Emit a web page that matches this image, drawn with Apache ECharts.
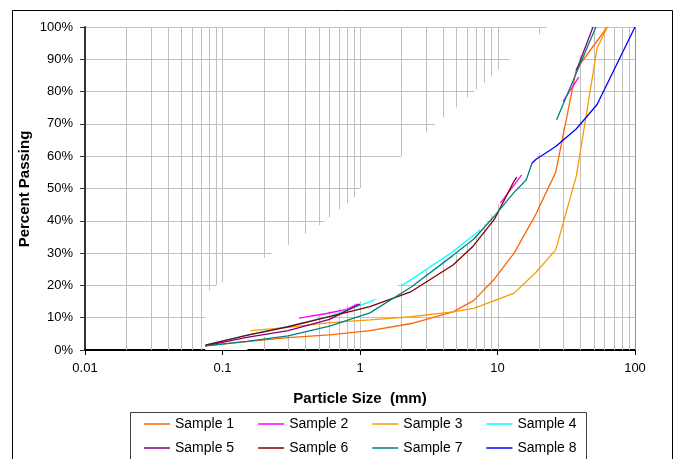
<!DOCTYPE html>
<html><head><meta charset="utf-8">
<script src="https://cdn.jsdelivr.net/npm/echarts@6/dist/echarts.min.js"></script>
<style>html,body{margin:0;padding:0;background:#fff}#c{width:677px;height:459px}</style>
</head><body><div id="c"></div>
<script>
// ---- data ----
const xTickLabels = ['0.01','0.1','1','10','100'];
const yTickLabels = ['0%','10%','20%','30%','40%','50%','60%','70%','80%','90%','100%'];
const seriesNames = ['Sample 1','Sample 2','Sample 3','Sample 4','Sample 5','Sample 6','Sample 7','Sample 8'];
const xTitle = 'Particle Size  (mm)';
const yTitle = 'Percent Passing';
// [particle size mm, percent passing]; null = segment not visible in the reference
const sample1 = [[0.075,1.3],[0.15,2.6],[0.3,3.8],[0.6,4.7],[1.18,6.0],[2.36,8.2],[4.75,11.8],[6.7,15.3],[9.5,22.0],[13.2,30.0],[19,42.0],[26.5,55.0],[37.5,87.0],[63,100]];
const sample2 = [[0.36,9.9],[0.57,11.3],[0.8,12.6],[0.97,14.3],[1.2,null],[10.5,45.5],[15,54.2],[20,null],[30,77],[39,84.5]];
const sample3 = [[0.16,6.0],[0.3,7.0],[0.6,8.5],[1.18,9.3],[2.36,10.3],[4.75,11.8],[6.7,12.9],[9.5,15.3],[13.2,17.6],[19,24.0],[26.5,31.0],[37.5,54.0],[53,93.5],[63,100]];
const sample4 = [[0.075,1.5],[0.15,4.6],[0.3,7.3],[0.6,10.4],[1.18,14.9],[1.29,15.7],[1.5,null],[2,19.9],[2.36,21.8],[4.75,30.5],[6.7,35.5],[7.5,37.2]];
const sample5 = [[0.075,1.3],[0.15,3.9],[0.3,6.0],[0.6,9.5],[0.8,12.2],[1.0,14.2],[2,null],[37.5,86.5],[49.5,100]];
const sample6 = [[0.075,1.5],[0.15,4.5],[0.3,7.2],[0.6,10.3],[1.18,13.4],[2.36,18.1],[4.75,26.3],[6.7,32.3],[9.5,40.5],[13.2,52.3],[13.8,53.5]];
const sample7 = [[0.075,1.3],[0.15,2.7],[0.3,4.4],[0.6,7.4],[1.18,11.5],[2.36,19.5],[4.75,29.3],[6.7,34.3],[9.5,41.5],[13.2,48.8],[16.2,52.7],[17.8,57.8],[20,null],[26.9,71.3],[37.5,85.8],[52,100]];
const sample8 = [[17.8,57.8],[19,59],[26.5,63],[37.5,68.5],[53,76],[100,100]];
const seriesColors = ['#FF6600','#FF00FF','#FF9900','#00FFFF','#800080','#800000','#008080','#0000FF'];
// vertical log gridlines (mm)
const gridX = [0.02,0.03,0.04,0.05,0.06,0.07,0.08,0.09,0.1,0.2,0.3,0.4,0.5,0.6,0.7,0.8,0.9,1,2,3,4,5,6,7,8,9,10,20,30,40,50,60,70,80,90,100];
// white area in the reference that hides part of the grid (x mm, y %)
const maskPoly = [[0.075,0],[0.075,18],[0.08,18.5],[0.09,20],[0.1,21],[0.2,28.5],[0.3,32.5],[0.4,36],[0.5,38.4],[0.6,41],[0.9,47],[1,50],[2,60],[3,67],[4,72],[5,75],[6,78],[7,80.5],[8,82.6],[9,84.6],[10,86.6],[20,97.6],[23,100],
  [48,100],[40,91],[37.5,88],[30,68],[25,64],[20,61],[18,58],[16.2,52],[10,45],[9,42],[8,38.7],[7,35],[6,32.5],[5,30],[2,20.5],[1,15],[0.6,12],[0.5,10.8],[0.4,5.7],[0.3,4.6],[0.2,4],[0.15,0]];

const seriesData = [sample1,sample2,sample3,sample4,sample5,sample6,sample7,sample8];
const FONT = 'Liberation Sans, Arial, sans-serif';

const chart = echarts.init(document.getElementById('c'), null, {renderer:'canvas'});
const lineSeries = seriesNames.map((n,i)=>({
  name:n, type:'line', data:seriesData[i], symbol:'none', showSymbol:false,
  connectNulls:false, z:3, animation:false,
  lineStyle:{color:seriesColors[i], width:1.3}, itemStyle:{color:seriesColors[i]}
}));
const legendCommon = {orient:'horizontal', icon:'rect', itemWidth:26, itemHeight:1.5, itemGap:24, padding:0,
  textStyle:{fontSize:14, color:'#000', fontFamily:FONT}, selectedMode:false};

chart.setOption({
  animation:false,
  backgroundColor:'#fff',
  grid:{left:85, right:42, top:27, bottom:109, containLabel:false},
  xAxis:{type:'log', logBase:10, min:0.01, max:100,
    name:xTitle, nameLocation:'middle', nameGap:41,
    nameTextStyle:{fontWeight:'bold', fontSize:15, color:'#000', fontFamily:FONT},
    axisLine:{show:true, onZero:false, lineStyle:{color:'#000', width:2}},
    axisTick:{show:true, length:5, lineStyle:{color:'#000'}},
    axisLabel:{fontSize:13, color:'#000', fontFamily:FONT, margin:12,
      formatter:v=>{const k=Math.round(Math.log10(v))+2; return xTickLabels[k]!==undefined?xTickLabels[k]:String(v);}},
    splitLine:{show:false}},
  yAxis:{type:'value', min:0, max:100, interval:10,
    axisLine:{show:true, lineStyle:{color:'#333', width:2}},
    axisTick:{show:true, length:5, lineStyle:{color:'#333'}},
    axisLabel:{fontSize:13, color:'#000', fontFamily:FONT, margin:12,
      formatter:v=>yTickLabels[Math.round(v/10)]},
    splitLine:{show:true, lineStyle:{color:'#c0c0c0', width:1}}},
  legend:[
    Object.assign({data:seriesNames.slice(0,4), left:144, top:417}, legendCommon),
    Object.assign({data:seriesNames.slice(4,8), left:144, top:441}, legendCommon)
  ],
  graphic:[
    {type:'rect', shape:{x:12.5, y:10.5, width:660, height:460}, style:{fill:null, stroke:'#000', lineWidth:1}, z:-10, silent:true},
    {type:'rect', shape:{x:130.5, y:412.5, width:456, height:60}, style:{fill:null, stroke:'#404040', lineWidth:1}, z:-10, silent:true},
    {type:'text', x:25, y:189, rotation:Math.PI/2, silent:true,
      style:{text:yTitle, font:'bold 15px '+FONT, fill:'#000', align:'center', verticalAlign:'middle'}}
  ],
  series:[
    {type:'custom', name:'vgrid', data:gridX.map(x=>[x,0]), z:1, silent:true, animation:false,
      encode:{x:0,y:1},
      renderItem:(params, api)=>{
        const x = api.value(0);
        const p1 = api.coord([x,0]), p2 = api.coord([x,100]);
        const px = Math.round(p1[0]) + 0.5;
        return {type:'line', shape:{x1:px, y1:p1[1], x2:px, y2:p2[1]},
          style:{stroke: x===100 ? '#909090' : '#c0c0c0', lineWidth:1}};
      }},
    {type:'custom', name:'mask', data:maskPoly, z:2, silent:true, animation:false, clip:true,
      encode:{x:0,y:1},
      renderItem:(params, api)=>{
        if (params.dataIndex !== 0) return null;
        const pts = maskPoly.map(p=>api.coord(p));
        return {type:'polygon', shape:{points:pts}, style:{fill:'#fff', stroke:null}};
      }},
    ...lineSeries
  ]
});
</script></body></html>
